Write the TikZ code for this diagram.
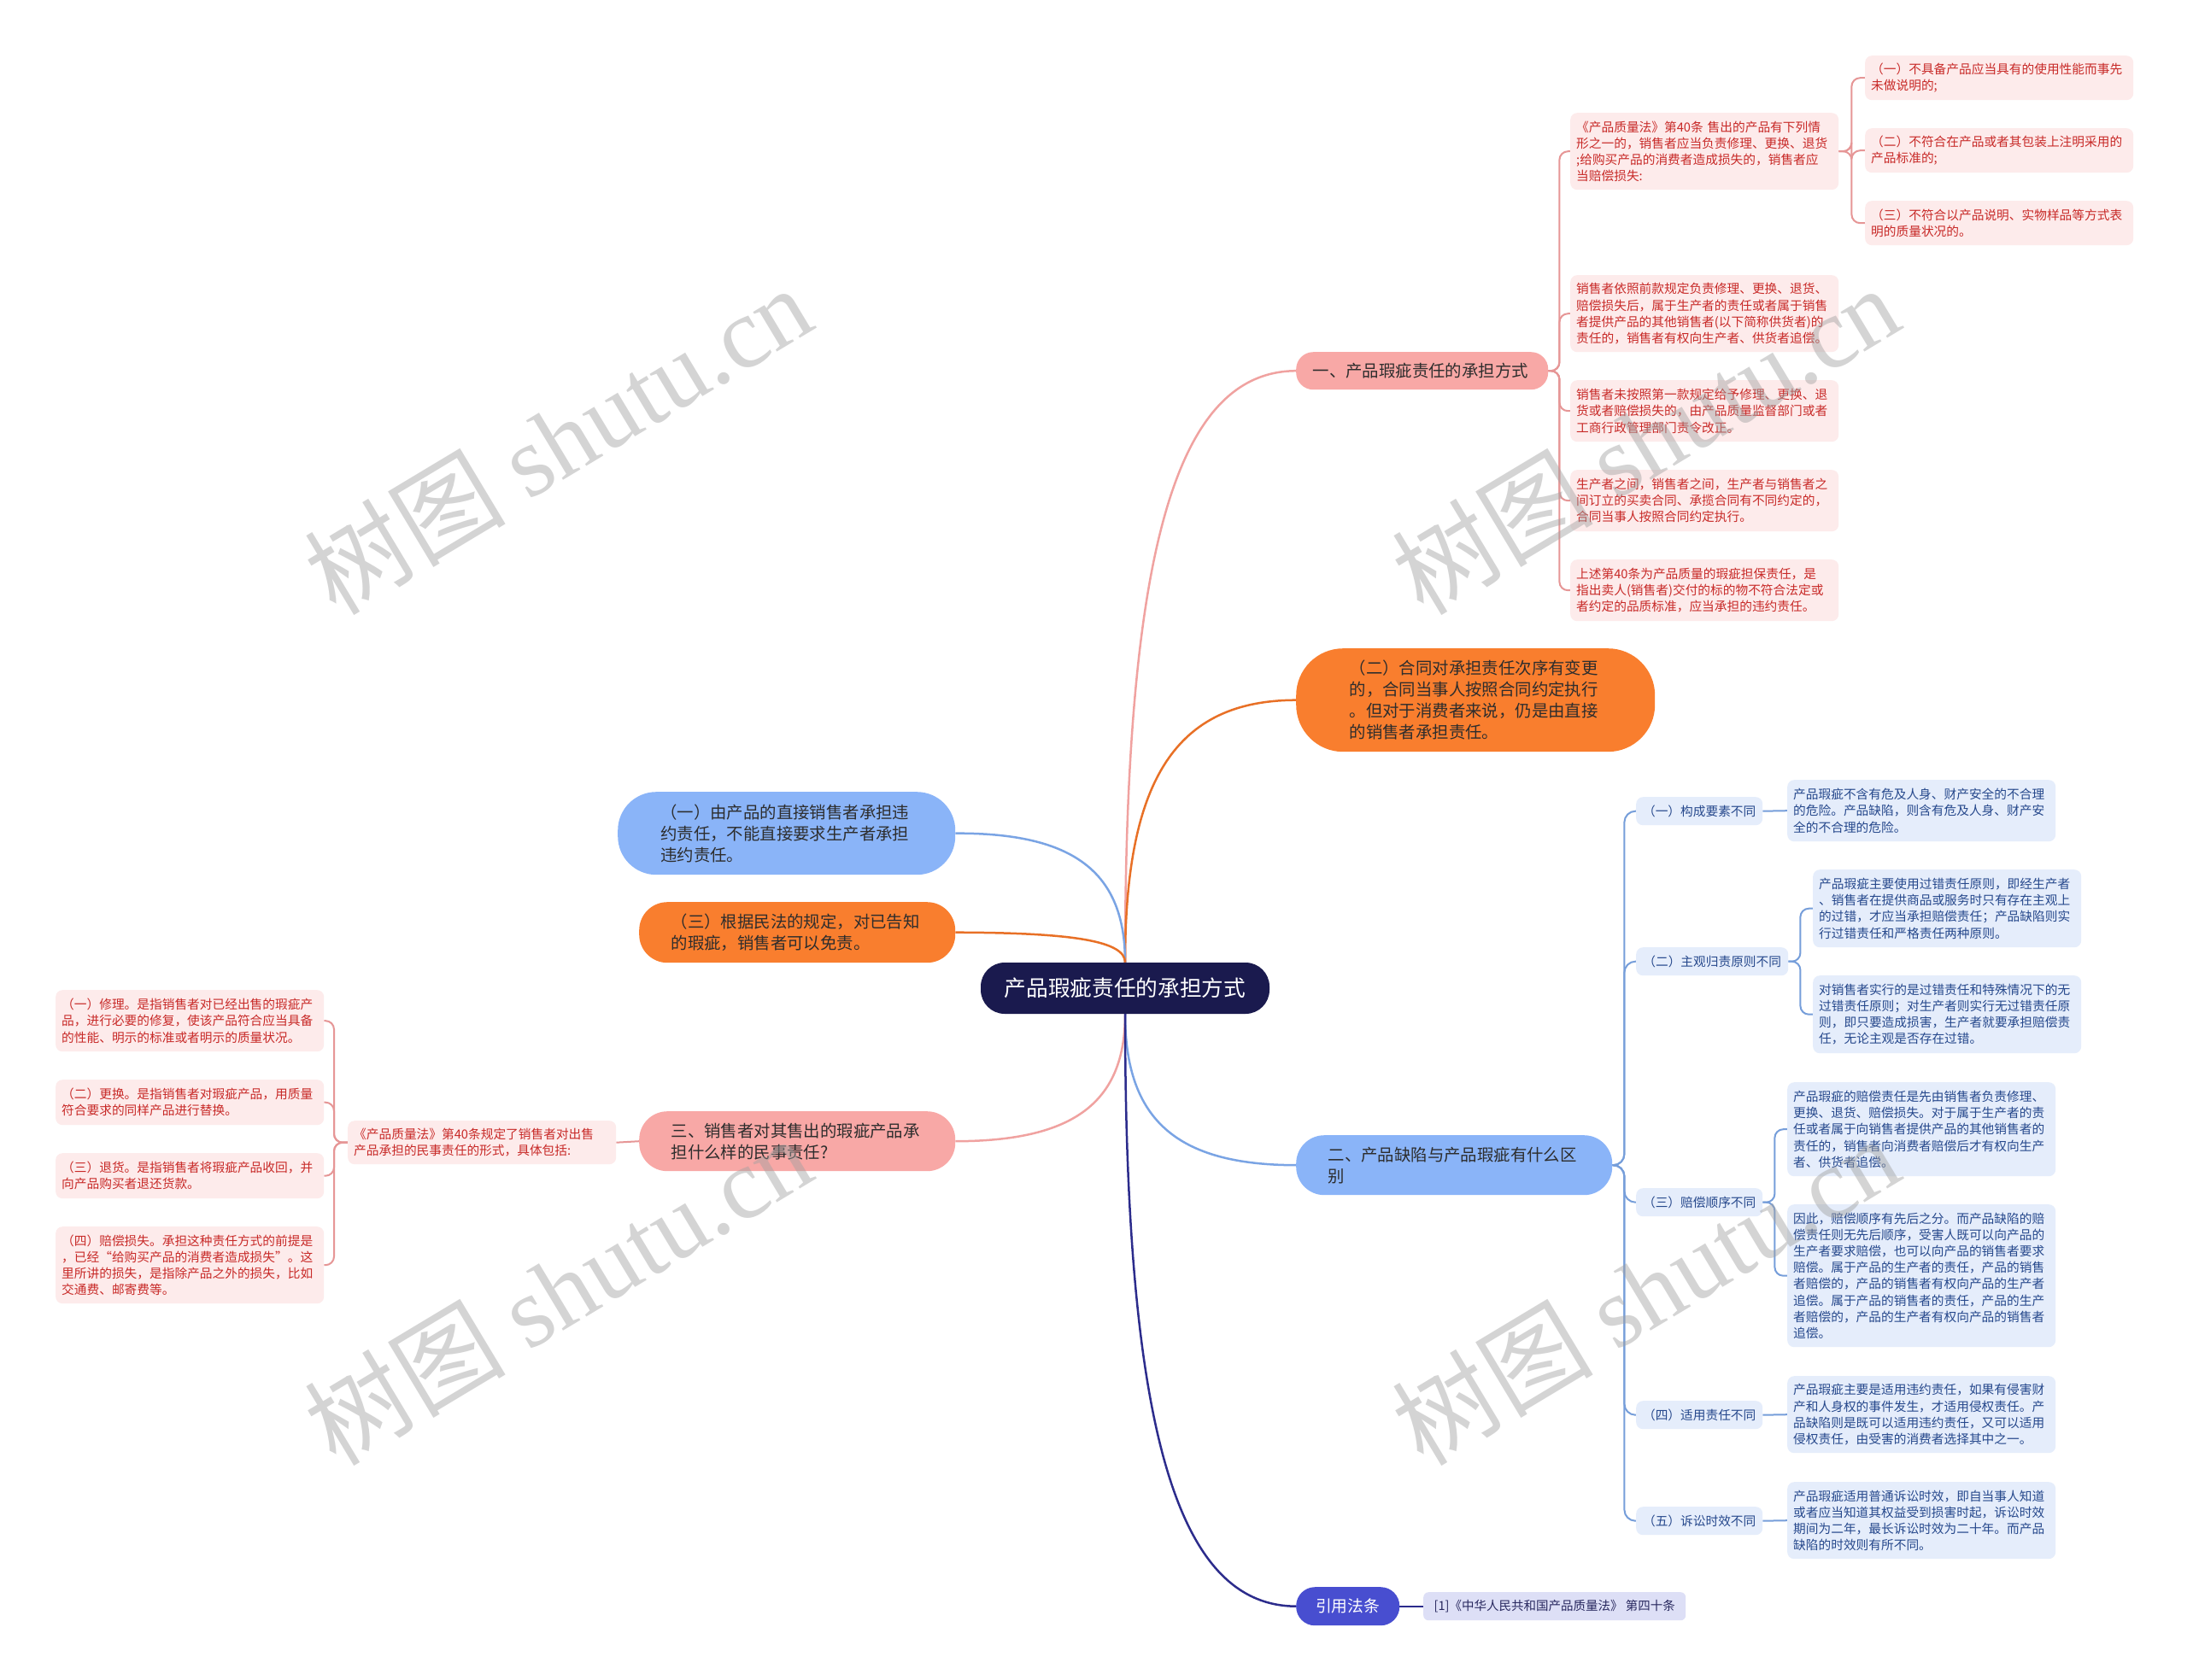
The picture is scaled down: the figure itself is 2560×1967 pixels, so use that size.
\documentclass[tikz,border=0pt]{standalone}
\usepackage{fontspec}
\setmainfont{Noto Sans CJK SC}
\newfontfamily\wmlatin{Liberation Serif}
\usetikzlibrary{backgrounds}
\definecolor{rootc}{RGB}{26,26,78}
\definecolor{lpink}{RGB}{248,168,166}
\definecolor{lorange}{RGB}{249,126,46}
\definecolor{lblue}{RGB}{138,180,248}
\definecolor{lindigo}{RGB}{72,78,208}
\definecolor{ltext}{RGB}{45,45,45}
\definecolor{ppfill}{RGB}{253,235,235}
\definecolor{pptext}{RGB}{200,42,40}
\definecolor{bbfill}{RGB}{229,237,251}
\definecolor{bbtext}{RGB}{38,72,140}
\definecolor{reffill}{RGB}{221,223,246}
\definecolor{reftext}{RGB}{40,40,95}
\definecolor{epink}{RGB}{240,162,160}
\definecolor{eorange}{RGB}{232,112,38}
\definecolor{eblue}{RGB}{122,164,228}
\definecolor{enavy}{RGB}{44,44,140}
\definecolor{spinkc}{RGB}{230,150,150}
\definecolor{sbluec}{RGB}{118,158,218}
\definecolor{wmgray}{RGB}{160,160,160}
\tikzset{
  rootbox/.style={fill=rootc, text=white, rounded corners=28pt, minimum width=338pt, minimum height=60pt, inner sep=0pt, font=\fontsize{25.7}{30}\selectfont},
  lvlbox/.style={anchor=north west, align=left, inner sep=0pt, text=ltext, text width=295pt, font=\fontsize{19.4}{25}\selectfont},
  pinkbox/.style={anchor=north west, fill=ppfill, text=pptext, rounded corners=8pt, minimum width=314pt, text width=300pt, align=left, inner sep=0pt, font=\fontsize{14.7}{19.2}\selectfont},
  bluebox/.style={pinkbox, fill=bbfill, text=bbtext},
  bluelabel/.style={anchor=north west, fill=bbfill, text=bbtext, rounded corners=8pt, minimum height=33pt, inner sep=0pt, font=\fontsize{14.7}{19.2}\selectfont},
  mpink/.style={draw=epink, line width=2.5pt},
  morange/.style={draw=eorange, line width=2.5pt},
  mblue/.style={draw=eblue, line width=2.5pt},
  mnavy/.style={draw=enavy, line width=2.5pt},
  spink/.style={draw=spinkc, line width=2pt, rounded corners=10pt},
  sblue/.style={draw=sbluec, line width=2pt, rounded corners=10pt},
  wmark/.style={rotate=31, text=wmgray, text opacity=0.45, font=\fontsize{118}{118}\selectfont}
}
\begin{document}
\begin{tikzpicture}[x=1pt,y=-1pt]
\useasboundingbox (0,0) rectangle (2560,1967);

% root
\node[rootbox] (root) at (1317,1157) {产品瑕疵责任的承担方式};

% level 1
\node[lvlbox, fill=lpink, rounded corners=20pt, minimum width=295pt, minimum height=44pt, text width=256pt] (n1) at (1517,412) {一、产品瑕疵责任的承担方式};
\node[lvlbox, fill=lorange, rounded corners=55pt, minimum width=420pt, minimum height=121pt] (o2) at (1517,759) {（二）合同对承担责任次序有变更\\的，合同当事人按照合同约定执行\\。但对于消费者来说，仍是由直接\\的销售者承担责任。};
\node[lvlbox, fill=lblue, rounded corners=45pt, minimum width=395pt, minimum height=97pt] (b1) at (723,927) {（一）由产品的直接销售者承担违\\约责任，不能直接要求生产者承担\\违约责任。};
\node[lvlbox, fill=lorange, rounded corners=33pt, minimum width=370pt, minimum height=71pt] (o3) at (748,1056) {（三）根据民法的规定，对已告知\\的瑕疵，销售者可以免责。};
\node[lvlbox, fill=lpink, rounded corners=33pt, minimum width=370pt, minimum height=70pt] (p3) at (748,1301) {三、销售者对其售出的瑕疵产品承\\担什么样的民事责任?};
\node[lvlbox, fill=lblue, rounded corners=33pt, minimum width=370pt, minimum height=70pt] (b2) at (1517,1329) {二、产品缺陷与产品瑕疵有什么区\\别};
\node[anchor=north west, fill=lindigo, text=white, rounded corners=22pt, minimum width=121pt, minimum height=45pt, inner sep=0pt, font=\fontsize{18.75}{22}\selectfont] (cite) at (1517,1858) {引用法条};
\node[anchor=north west, fill=reffill, text=reftext, rounded corners=6pt, minimum width=307pt, minimum height=33pt, inner sep=0pt, font=\fontsize{14.5}{18}\selectfont] (ref) at (1666,1864) {[1]《中华人民共和国产品质量法》 第四十条};

% branch one children
\node[pinkbox, minimum height=90pt] (A) at (1838,132) {《产品质量法》第40条 售出的产品有下列情\\形之一的，销售者应当负责修理、更换、退货\\;给购买产品的消费者造成损失的，销售者应\\当赔偿损失:};
\node[pinkbox, minimum height=52pt] (A1) at (2183,65) {（一）不具备产品应当具有的使用性能而事先\\未做说明的;};
\node[pinkbox, minimum height=52pt] (A2) at (2183,150) {（二）不符合在产品或者其包装上注明采用的\\产品标准的;};
\node[pinkbox, minimum height=52pt] (A3) at (2183,235) {（三）不符合以产品说明、实物样品等方式表\\明的质量状况的。};
\node[pinkbox, minimum height=90pt] (B) at (1838,322) {销售者依照前款规定负责修理、更换、退货、\\赔偿损失后，属于生产者的责任或者属于销售\\者提供产品的其他销售者(以下简称供货者)的\\责任的，销售者有权向生产者、供货者追偿。};
\node[pinkbox, minimum height=72pt] (C) at (1838,445) {销售者未按照第一款规定给予修理、更换、退\\货或者赔偿损失的，由产品质量监督部门或者\\工商行政管理部门责令改正。};
\node[pinkbox, minimum height=72pt] (D) at (1838,550) {生产者之间，销售者之间，生产者与销售者之\\间订立的买卖合同、承揽合同有不同约定的，\\合同当事人按照合同约定执行。};
\node[pinkbox, minimum height=72pt] (E) at (1838,655) {上述第40条为产品质量的瑕疵担保责任，是\\指出卖人(销售者)交付的标的物不符合法定或\\者约定的品质标准，应当承担的违约责任。};

% branch two children
\node[bluelabel, minimum width=148pt] (L1) at (1915,933) {（一）构成要素不同};
\node[bluelabel, minimum width=178pt] (L2) at (1915,1109) {（二）主观归责原则不同};
\node[bluelabel, minimum width=148pt] (L3) at (1915,1391) {（三）赔偿顺序不同};
\node[bluelabel, minimum width=148pt] (L4) at (1915,1640) {（四）适用责任不同};
\node[bluelabel, minimum width=148pt] (L5) at (1915,1764) {（五）诉讼时效不同};
\node[bluebox, minimum height=72pt] (C1) at (2092,913) {产品瑕疵不含有危及人身、财产安全的不合理\\的危险。产品缺陷，则含有危及人身、财产安\\全的不合理的危险。};
\node[bluebox, minimum height=91pt] (C2a) at (2122,1018) {产品瑕疵主要使用过错责任原则，即经生产者\\、销售者在提供商品或服务时只有存在主观上\\的过错，才应当承担赔偿责任；产品缺陷则实\\行过错责任和严格责任两种原则。};
\node[bluebox, minimum height=91pt] (C2b) at (2122,1142) {对销售者实行的是过错责任和特殊情况下的无\\过错责任原则；对生产者则实行无过错责任原\\则，即只要造成损害，生产者就要承担赔偿责\\任，无论主观是否存在过错。};
\node[bluebox, minimum height=110pt] (C3a) at (2092,1267) {产品瑕疵的赔偿责任是先由销售者负责修理、\\更换、退货、赔偿损失。对于属于生产者的责\\任或者属于向销售者提供产品的其他销售者的\\责任的，销售者向消费者赔偿后才有权向生产\\者、供货者追偿。};
\node[bluebox, minimum height=167pt] (C3b) at (2092,1410) {因此，赔偿顺序有先后之分。而产品缺陷的赔\\偿责任则无先后顺序，受害人既可以向产品的\\生产者要求赔偿，也可以向产品的销售者要求\\赔偿。属于产品的生产者的责任，产品的销售\\者赔偿的，产品的销售者有权向产品的生产者\\追偿。属于产品的销售者的责任，产品的生产\\者赔偿的，产品的生产者有权向产品的销售者\\追偿。};
\node[bluebox, minimum height=90pt] (C4) at (2092,1611) {产品瑕疵主要是适用违约责任，如果有侵害财\\产和人身权的事件发生，才适用侵权责任。产\\品缺陷则是既可以适用违约责任，又可以适用\\侵权责任，由受害的消费者选择其中之一。};
\node[bluebox, minimum height=90pt] (C5) at (2092,1735) {产品瑕疵适用普通诉讼时效，即自当事人知道\\或者应当知道其权益受到损害时起，诉讼时效\\期间为二年，最长诉讼时效为二十年。而产品\\缺陷的时效则有所不同。};

% branch three children
\node[pinkbox, minimum height=51pt] (mid) at (407,1312) {《产品质量法》第40条规定了销售者对出售\\产品承担的民事责任的形式，具体包括:};
\node[pinkbox, minimum height=72pt] (LB1) at (65,1159) {（一）修理。是指销售者对已经出售的瑕疵产\\品，进行必要的修复，使该产品符合应当具备\\的性能、明示的标准或者明示的质量状况。};
\node[pinkbox, minimum height=53pt] (LB2) at (65,1264) {（二）更换。是指销售者对瑕疵产品，用质量\\符合要求的同样产品进行替换。};
\node[pinkbox, minimum height=53pt] (LB3) at (65,1350) {（三）退货。是指销售者将瑕疵产品收回，并\\向产品购买者退还货款。};
\node[pinkbox, minimum height=90pt] (LB4) at (65,1436) {（四）赔偿损失。承担这种责任方式的前提是\\，已经“给购买产品的消费者造成损失”。这\\里所讲的损失，是指除产品之外的损失，比如\\交通费、邮寄费等。};

\begin{scope}[on background layer]
\fill[white] (0,0) rectangle (2560,1967);
% main connectors
\draw[mpink] (root.north) .. controls (1317,643) and (1377,435) .. (n1.west);
\draw[morange] (root.north) .. controls (1317,912) and (1377,820) .. (o2.west);
\draw[mblue] (root.north) .. controls (1317,1021) and (1257,975) .. (b1.east);
\draw[morange] (root.north) .. controls (1317,1102) and (1257,1092) .. (o3.east);
\draw[mpink] (root.south) .. controls (1317,1291) and (1257,1336) .. (p3.east);
\draw[mblue] (root.south) .. controls (1317,1311) and (1377,1364) .. (b2.west);
\draw[mnavy] (root.south) .. controls (1317,1672) and (1377,1880) .. (cite.west);
\draw[mnavy, line width=2pt] (cite.east) -- (ref.west);
% branch one
\foreach \c in {A,B,C,D,E}{\draw[spink] (n1.east) -- ++(13,0) |- (\c.west);}
\foreach \c in {A1,A2,A3}{\draw[spink] (A.east) -- ++(15,0) |- (\c.west);}
% branch two
\foreach \c in {L1,L2,L3,L4,L5}{\draw[sblue, rounded corners=13pt] (b2.east) -- ++(14,0) |- (\c.west);}
\draw[sblue] (L1.east) -- (C1.west);
\foreach \c in {C2a,C2b}{\draw[sblue] (L2.east) -- ++(14,0) |- (\c.west);}
\foreach \c in {C3a,C3b}{\draw[sblue] (L3.east) -- ++(14,0) |- (\c.west);}
\draw[sblue] (L4.east) -- (C4.west);
\draw[sblue] (L5.east) -- (C5.west);
% branch three
\draw[spink] (p3.west) -- (mid.east);
\foreach \c in {LB1,LB2,LB3,LB4}{\draw[spink] (mid.west) -- ++(-16,0) |- (\c.east);}
\end{scope}

% watermarks
\node[wmark] (wm1) at (653,514) {树图 {\wmlatin shutu.cn}};
\node[wmark] (wm2) at (1926,514) {树图 {\wmlatin shutu.cn}};
\node[wmark] (wm3) at (653,1510) {树图 {\wmlatin shutu.cn}};
\node[wmark] (wm4) at (1926,1510) {树图 {\wmlatin shutu.cn}};
\end{tikzpicture}
\end{document}
